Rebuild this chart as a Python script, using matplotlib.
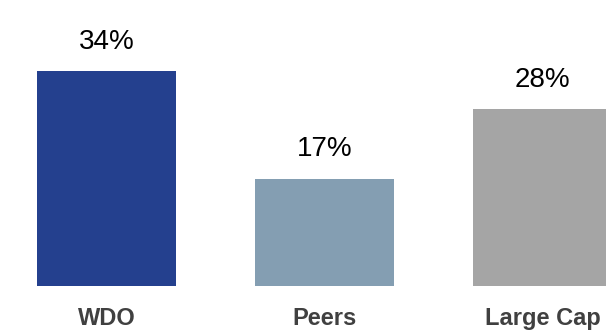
import matplotlib
matplotlib.use("Agg")
import matplotlib.pyplot as plt

categories = ["WDO", "Peers", "Large Cap"]
values = [34, 17, 28]
labels = ["34%", "17%", "28%"]
colors = ["#24408e", "#849eb2", "#a5a5a5"]

plt.rcParams['font.family'] = ['Liberation Sans', 'DejaVu Sans']

fig = plt.figure(figsize=(6.06, 3.32), dpi=100)
bottom_px = 286.0
top_px = bottom_px - 40 * 6.32
ax = fig.add_axes([0, 1 - bottom_px / 332, 1, (bottom_px - top_px) / 332])
x = list(range(len(categories)))
ax.bar(x, values, width=139 / 218, color=colors)
ax.set_xlim(-106.5 / 218, (606 - 106.5) / 218)
ax.set_ylim(0, 40)
ax.axis("off")

for xi, v, lab in zip(x, values, labels):
    ax.annotate(lab, (xi, v), xytext=(0, 16), textcoords="offset points",
                ha="center", va="baseline", fontsize=20, color="black")

for xi, cat in zip(x, categories):
    ax.annotate(cat, (xi, 0), xytext=(0, -28), textcoords="offset points",
                ha="center", va="baseline", fontsize=17, fontweight="bold",
                color="#404040", annotation_clip=False)

fig.savefig("out.png", dpi=100)
